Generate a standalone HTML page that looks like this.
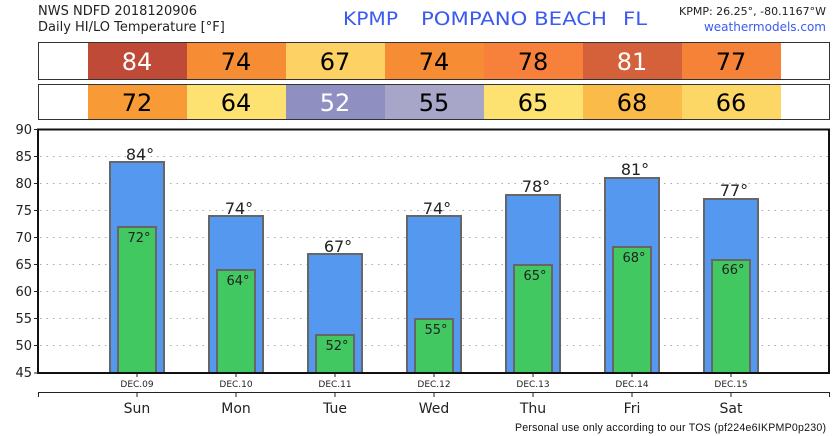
<!DOCTYPE html>
<html><head><meta charset="utf-8"><style>body{margin:0;background:#fff}svg{display:block}</style></head><body>
<svg width="838" height="436" xmlns="http://www.w3.org/2000/svg" font-family="DejaVu Sans, sans-serif">
<text x="38" y="15" font-size="13" fill="#222">NWS NDFD 2018120906</text>
<text x="38" y="31" font-size="13" fill="#222">Daily HI/LO Temperature [°F]</text>
<text x="343" y="25" font-size="19" fill="#3a5af0" textLength="55" lengthAdjust="spacingAndGlyphs">KPMP</text>
<text x="421" y="25" font-size="19" fill="#3a5af0" textLength="186" lengthAdjust="spacingAndGlyphs">POMPANO BEACH</text>
<text x="623" y="25" font-size="19" fill="#3a5af0" textLength="24" lengthAdjust="spacingAndGlyphs">FL</text>
<text x="826" y="15" font-size="11" fill="#222" text-anchor="end">KPMP: 26.25°, -80.1167°W</text>
<text x="826" y="31" font-size="12" fill="#3a5af0" text-anchor="end">weathermodels.com</text>
<g font-size="24" text-anchor="middle">
<rect x="88" y="42" width="99" height="38" fill="#bf4a38"/><rect x="187" y="42" width="99" height="38" fill="#f68d35"/><rect x="286" y="42" width="99" height="38" fill="#fdd163"/><rect x="385" y="42" width="99" height="38" fill="#f68d35"/><rect x="484" y="42" width="99" height="38" fill="#f7813a"/><rect x="583" y="42" width="99" height="38" fill="#d4613a"/><rect x="682" y="42" width="99" height="38" fill="#f68238"/>
<rect x="38.5" y="42.5" width="791" height="37" fill="none" stroke="#333"/>
<text x="137" y="70" fill="#fff">84</text><text x="236" y="70">74</text><text x="335" y="70">67</text><text x="434" y="70">74</text><text x="533" y="70">78</text><text x="632" y="70" fill="#fff">81</text><text x="731" y="70">77</text>
<rect x="88" y="84" width="99" height="36" fill="#f89a36"/><rect x="187" y="84" width="99" height="36" fill="#fde272"/><rect x="286" y="84" width="99" height="36" fill="#8f8fc2"/><rect x="385" y="84" width="99" height="36" fill="#a7a6c8"/><rect x="484" y="84" width="99" height="36" fill="#fde272"/><rect x="583" y="84" width="99" height="36" fill="#fbbb48"/><rect x="682" y="84" width="99" height="36" fill="#fdd766"/>
<rect x="38.5" y="84.5" width="791" height="35" fill="none" stroke="#333"/>
<text x="137" y="111">72</text><text x="236" y="111">64</text><text x="335" y="111" fill="#fff">52</text><text x="434" y="111">55</text><text x="533" y="111">65</text><text x="632" y="111">68</text><text x="731" y="111">66</text>
</g>
<g stroke="#aaa" stroke-dasharray="1.5,5">
<line x1="40" x2="829" y1="156.5" y2="156.5"/><line x1="40" x2="829" y1="183.5" y2="183.5"/><line x1="40" x2="829" y1="210.5" y2="210.5"/><line x1="40" x2="829" y1="237.5" y2="237.5"/><line x1="40" x2="829" y1="264.5" y2="264.5"/><line x1="40" x2="829" y1="291.5" y2="291.5"/><line x1="40" x2="829" y1="318.5" y2="318.5"/><line x1="40" x2="829" y1="345.5" y2="345.5"/>
</g>
<g stroke="#666" stroke-width="2">
<rect x="110" y="162" width="54" height="211" fill="#5499ef"/><rect x="118" y="227" width="38" height="146" fill="#41c860"/>
<rect x="209" y="216" width="54" height="157" fill="#5499ef"/><rect x="217" y="270" width="38" height="103" fill="#41c860"/>
<rect x="308" y="254" width="54" height="119" fill="#5499ef"/><rect x="316" y="335" width="38" height="38" fill="#41c860"/>
<rect x="407" y="216" width="54" height="157" fill="#5499ef"/><rect x="415" y="319" width="38" height="54" fill="#41c860"/>
<rect x="506" y="195" width="54" height="178" fill="#5499ef"/><rect x="514" y="265" width="38" height="108" fill="#41c860"/>
<rect x="605" y="178" width="54" height="195" fill="#5499ef"/><rect x="613" y="247" width="38" height="126" fill="#41c860"/>
<rect x="704" y="199" width="54" height="174" fill="#5499ef"/><rect x="712" y="260" width="38" height="113" fill="#41c860"/>
</g>
<g font-size="16" text-anchor="middle" fill="#222">
<text x="140" y="160">84°</text><text x="239" y="214">74°</text><text x="338" y="252">67°</text><text x="437" y="214">74°</text><text x="536" y="192">78°</text><text x="635" y="175">81°</text><text x="734" y="196">77°</text>
</g>
<g font-size="13" text-anchor="middle" fill="#222">
<text x="139" y="242">72°</text><text x="238" y="285">64°</text><text x="337" y="350">52°</text><text x="436" y="334">55°</text><text x="535" y="280">65°</text><text x="634" y="262">68°</text><text x="733" y="274">66°</text>
</g>
<rect x="38" y="129.5" width="791" height="243.5" fill="none" stroke="#111" stroke-width="2"/>
<g font-size="13" fill="#222" text-anchor="end">
<text x="32" y="134">90</text><text x="32" y="161">85</text><text x="32" y="188">80</text><text x="32" y="215">75</text><text x="32" y="242">70</text><text x="32" y="269">65</text><text x="32" y="296">60</text><text x="32" y="323">55</text><text x="32" y="350">50</text><text x="32" y="377">45</text>
</g>
<g stroke="#222"><line x1="34" x2="38" y1="129.5" y2="129.5"/><line x1="34" x2="38" y1="156.5" y2="156.5"/><line x1="34" x2="38" y1="183.5" y2="183.5"/><line x1="34" x2="38" y1="210.5" y2="210.5"/><line x1="34" x2="38" y1="237.5" y2="237.5"/><line x1="34" x2="38" y1="264.5" y2="264.5"/><line x1="34" x2="38" y1="291.5" y2="291.5"/><line x1="34" x2="38" y1="318.5" y2="318.5"/><line x1="34" x2="38" y1="345.5" y2="345.5"/><line x1="34" x2="38" y1="373" y2="373"/>
<line x1="38.5" x2="829.5" y1="392.5" y2="392.5"/><line x1="38.5" x2="38.5" y1="392" y2="397"/><line x1="829.5" x2="829.5" y1="392" y2="397"/>
<line x1="137" x2="137" y1="373" y2="377"/><line x1="236" x2="236" y1="373" y2="377"/><line x1="335" x2="335" y1="373" y2="377"/><line x1="434" x2="434" y1="373" y2="377"/><line x1="533" x2="533" y1="373" y2="377"/><line x1="632" x2="632" y1="373" y2="377"/><line x1="731" x2="731" y1="373" y2="377"/>
<line x1="137" x2="137" y1="392" y2="397"/><line x1="236" x2="236" y1="392" y2="397"/><line x1="335" x2="335" y1="392" y2="397"/><line x1="434" x2="434" y1="392" y2="397"/><line x1="533" x2="533" y1="392" y2="397"/><line x1="632" x2="632" y1="392" y2="397"/><line x1="731" x2="731" y1="392" y2="397"/>
</g>
<g font-size="9" text-anchor="middle" fill="#222">
<text x="137" y="387">DEC.09</text><text x="236" y="387">DEC.10</text><text x="335" y="387">DEC.11</text><text x="434" y="387">DEC.12</text><text x="533" y="387">DEC.13</text><text x="632" y="387">DEC.14</text><text x="731" y="387">DEC.15</text>
</g>
<g font-size="14" text-anchor="middle" fill="#222">
<text x="137" y="413">Sun</text><text x="236" y="413">Mon</text><text x="335" y="413">Tue</text><text x="434" y="413">Wed</text><text x="533" y="413">Thu</text><text x="632" y="413">Fri</text><text x="731" y="413">Sat</text>
</g>
<text x="515" y="431" font-size="10.6" font-family="Liberation Sans, sans-serif" textLength="311" fill="#111">Personal use only according to our TOS (pf224e6IKPMP0p230)</text>
</svg>
</body></html>
